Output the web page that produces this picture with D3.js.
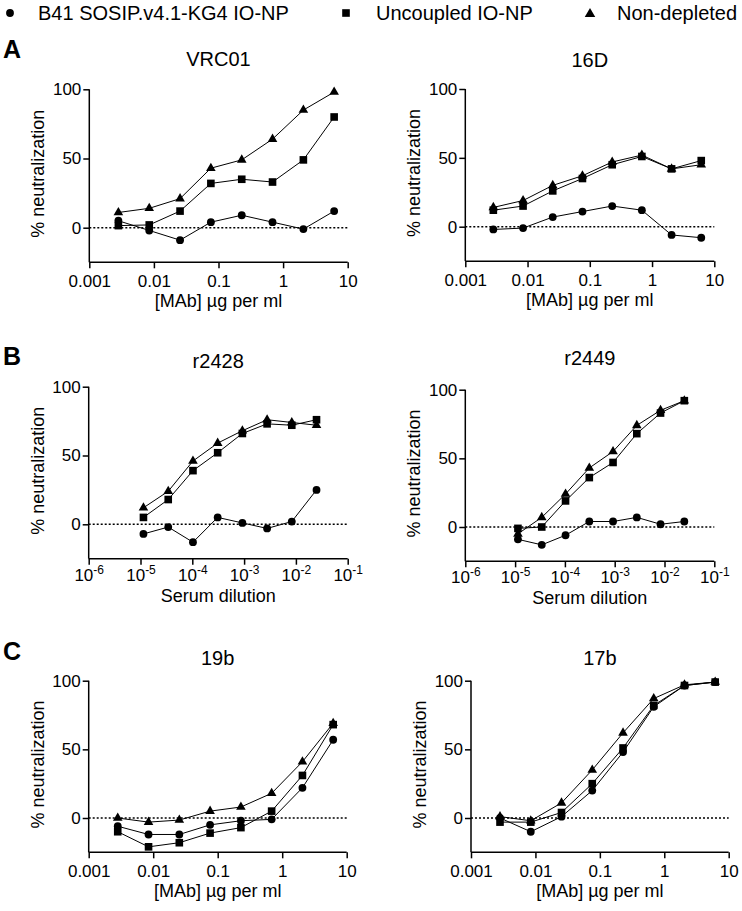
<!DOCTYPE html>
<html>
<head>
<meta charset="utf-8">
<script src="https://cdn.jsdelivr.net/npm/d3@7"></script>
<style>
  html, body { margin: 0; padding: 0; background: #fff; }
  svg { display: block; font-family: "Liberation Sans", Arial, Helvetica, sans-serif; }
</style>
</head>
<body>
<svg id="chart" width="742" height="911"></svg>
<script>
// ---------------- DATA ----------------
const seriesNames = ["B41 SOSIP.v4.1-KG4 IO-NP", "Uncoupled IO-NP", "Non-depleted"];
const mabConc = [0.00282, 0.00847, 0.0254, 0.0762, 0.229, 0.686, 2.06, 6.17];
const serumDilution = [1.14e-5, 3.43e-5, 1.03e-4, 3.09e-4, 9.26e-4, 2.78e-3, 8.33e-3, 2.5e-2];
const mabTicks = [0.001, 0.01, 0.1, 1, 10];
const mabTickLabels = ["0.001", "0.01", "0.1", "1", "10"];
const serumTicks = [1e-6, 1e-5, 1e-4, 1e-3, 1e-2, 1e-1];
const serumTickExp = ["-6", "-5", "-4", "-3", "-2", "-1"];
const yTicks = [0, 50, 100];

const vrc01_ionp = [5, -2, -9, 4, 9, 4, -1, 12];
const vrc01_unc  = [1.5, 2, 12, 32, 35, 33, 49, 80];
const vrc01_non  = [11, 14, 21, 43, 49, 64, 85, 98];

const d16_ionp = [-2, -1, 7, 11, 15, 12, -6, -8];
const d16_unc  = [12, 15, 26, 35, 45, 51, 42, 48];
const d16_non  = [14, 19, 30, 37, 47, 52, 42, 45];

const r2428_ionp = [-7, -2, -13, 5, 1, -3, 2, 25];
const r2428_unc  = [5, 18, 39, 52, 66, 73, 72, 76];
const r2428_non  = [12, 24, 46, 59, 68, 76, 74, 72];

const r2449_ionp = [-9, -13, -6, 4, 4, 7, 2, 4];
const r2449_unc  = [-1, 0, 19, 36, 47, 68, 83, 92];
const r2449_non  = [-5, 7, 24, 43, 55, 74, 85, 92];

const b19_ionp = [-6, -12, -12, -5, -2, -1, 22, 57];
const b19_unc  = [-10, -21, -18, -11, -7, 5, 31, 68];
const b19_non  = [0, -3, -1.5, 5, 8, 18, 41, 69];

const b17_ionp = [0, -10, 1, 20, 48, 81, 96.5, 99];
const b17_unc  = [-3, -3, 4, 25, 51, 82, 96.5, 99];
const b17_non  = [1, -2, 11, 35, 62, 87, 97, 99];

// ---------------- LAYOUT ----------------
const panels = [
  {title: "VRC01", letter: "A", type: "mab", series: [vrc01_ionp, vrc01_unc, vrc01_non],
   x0: 89.3, x1: 347.7, yTop: 89.3, yZero: 227.7, titleY: 66, letterY: 58},
  {title: "16D", letter: null, type: "mab", series: [d16_ionp, d16_unc, d16_non],
   x0: 465.3, x1: 714.3, yTop: 89, yZero: 226.7, titleY: 67},
  {title: "r2428", letter: "B", type: "serum", series: [r2428_ionp, r2428_unc, r2428_non],
   x0: 88.7, x1: 347.7, yTop: 386.7, yZero: 524.3, titleY: 368, letterY: 365},
  {title: "r2449", letter: null, type: "serum", series: [r2449_ionp, r2449_unc, r2449_non],
   x0: 465.3, x1: 714.3, yTop: 389.7, yZero: 527, titleY: 365},
  {title: "19b", letter: "C", type: "mab", series: [b19_ionp, b19_unc, b19_non],
   x0: 88.7, x1: 346.7, yTop: 680.7, yZero: 818, titleY: 665, letterY: 660},
  {title: "17b", letter: null, type: "mab", series: [b17_ionp, b17_unc, b17_non],
   x0: 471, x1: 728.7, yTop: 680.7, yZero: 818, titleY: 665}
];

const svg = d3.select("#chart");
const symTypes = [d3.symbolCircle, d3.symbolSquare, d3.symbolTriangle];
const symSizes = [48, 58, 40];

// ---------------- LEGEND ----------------
const legendItems = [
  {mx: 10, tx: 38},
  {mx: 346, tx: 376},
  {mx: 590, tx: 617}
];
legendItems.forEach((it, i) => {
  svg.append("path")
    .attr("d", d3.symbol().type(symTypes[i]).size(i === 2 ? 48 : symSizes[i])())
    .attr("transform", `translate(${it.mx},${i === 2 ? 14 : 13})`)
    .attr("fill", "#000");
  svg.append("text")
    .attr("x", it.tx).attr("y", 20)
    .attr("font-size", 20)
    .attr("fill", "#000")
    .text(seriesNames[i]);
});

// ---------------- PANELS ----------------
panels.forEach(p => {
  const xVals = p.type === "mab" ? mabConc : serumDilution;
  const xDomain = p.type === "mab" ? [0.001, 10] : [1e-6, 1e-1];
  const x = d3.scaleLog().domain(xDomain).range([p.x0, p.x1]);
  const pxPerUnit = (p.yZero - p.yTop) / 100;
  const yBottom = p.yZero + 25 * pxPerUnit;
  const y = d3.scaleLinear().domain([-25, 100]).range([yBottom, p.yTop]);

  const g = svg.append("g");

  // title
  g.append("text")
    .attr("x", (p.x0 + p.x1) / 2).attr("y", p.titleY)
    .attr("text-anchor", "middle").attr("font-size", 20)
    .text(p.title);

  if (p.letter) {
    svg.append("text")
      .attr("x", 3).attr("y", p.letterY)
      .attr("font-size", 25).attr("font-weight", "bold")
      .text(p.letter);
  }

  // y axis
  const yAxis = d3.axisLeft(y).tickValues(yTicks).tickSize(6).tickSizeOuter(0).tickPadding(2)
    .tickFormat(d3.format("d"));
  const ga = g.append("g").attr("transform", `translate(${p.x0},0)`).call(yAxis);
  ga.select(".domain").attr("d", `M0,${yBottom}V${p.yTop}`);
  ga.selectAll("text").attr("font-size", 17).attr("font-family", null).attr("fill", "#000");
  ga.selectAll("line, path").attr("stroke", "#000").attr("stroke-width", 1.5);

  // y axis title
  g.append("text")
    .attr("transform", `translate(${p.x0 - 45},${(p.yTop + yBottom) / 2 - 2}) rotate(-90)`)
    .attr("text-anchor", "middle").attr("font-size", 18)
    .text("% neutralization");

  // x axis
  const ticks = p.type === "mab" ? mabTicks : serumTicks;
  const xAxis = d3.axisBottom(x).tickValues(ticks).tickSize(6).tickSizeOuter(0).tickPadding(7)
    .tickFormat((d, i) => p.type === "mab" ? mabTickLabels[i] : "");
  const gx = g.append("g").attr("transform", `translate(0,${yBottom})`).call(xAxis);
  gx.select(".domain").attr("d", `M${p.x0},0H${p.x1}`);
  gx.selectAll("line, path").attr("stroke", "#000").attr("stroke-width", 1.5);
  gx.selectAll("text").attr("font-size", 17).attr("font-family", null).attr("fill", "#000");
  if (p.type === "serum") {
    gx.selectAll(".tick text").each(function(d, i) {
      const t = d3.select(this);
      t.attr("dy", null).attr("y", 22);
      t.append("tspan").text("10");
      t.append("tspan").attr("font-size", 12).attr("dy", -7).text(serumTickExp[i]);
    });
  }

  // x axis title
  g.append("text")
    .attr("x", (p.x0 + p.x1) / 2).attr("y", yBottom + (p.type === "mab" ? 45 : 43))
    .attr("text-anchor", "middle").attr("font-size", 18)
    .text(p.type === "mab" ? "[MAb] \u00b5g per ml" : "Serum dilution");

  // dotted zero line
  g.append("line")
    .attr("x1", p.x0).attr("x2", p.x1)
    .attr("y1", y(0)).attr("y2", y(0))
    .attr("stroke", "#000").attr("stroke-width", 1.5)
    .attr("stroke-dasharray", "2,2");

  // lines
  const line = d3.line().x((d, i) => x(xVals[i])).y(d => y(d));
  p.series.forEach(s => {
    g.append("path").datum(s).attr("d", line)
      .attr("fill", "none").attr("stroke", "#000").attr("stroke-width", 1);
  });

  // markers
  p.series.forEach((s, si) => {
    g.selectAll(null).data(s).enter().append("path")
      .attr("d", d3.symbol().type(symTypes[si]).size(symSizes[si])())
      .attr("transform", (d, i) => `translate(${x(xVals[i])},${y(d)})`)
      .attr("fill", "#000");
  });
});
</script>
</body>
</html>
